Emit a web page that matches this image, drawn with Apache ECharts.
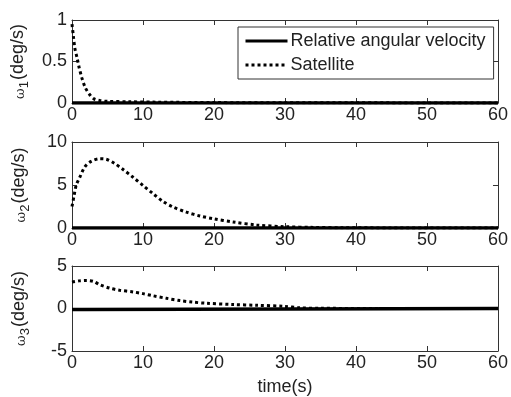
<!DOCTYPE html>
<html><head><meta charset="utf-8">
<script src="https://cdn.jsdelivr.net/npm/echarts@6/dist/echarts.min.js"></script>
<style>html,body{margin:0;padding:0;background:#fff}#c{width:511px;height:397px}</style>
</head><body><div id="c"></div>
<script>
// ---- data ----
const xTicks = [0, 10, 20, 30, 40, 50, 60];
const seriesNames = ['Relative angular velocity', 'Satellite'];

const rel1T = [0, 60];
const rel1V = [0, 0];
const sat1T = [0, 0.2, 0.4, 0.7, 1.0, 1.4, 1.9, 2.5, 3.1, 3.9, 5, 8, 12, 20, 30, 40, 50, 60];
const sat1V = [0.95, 0.8, 0.66, 0.55, 0.43, 0.3, 0.18, 0.1, 0.05, 0.03, 0.02, 0.015, 0.01, 0.005, 0.003, 0.002, 0.001, 0];

const rel2T = [0, 60];
const rel2V = [0, 0];
const sat2T = [0, 0.3, 0.6, 1.1, 1.8, 2.7, 3.9, 4.8, 6, 7.2, 8.6, 10, 11.4, 12.8, 14.2, 16.1, 18, 19.9, 22.7, 26, 30, 34, 38, 45, 60];
const sat2V = [2.5, 3.8, 5.0, 5.9, 7.1, 7.75, 8.05, 8.0, 7.5, 6.8, 5.9, 4.95, 4.0, 3.1, 2.45, 1.85, 1.4, 1.08, 0.7, 0.35, 0.15, 0.07, 0.03, 0.01, 0];

const rel3T = [0, 1.5, 1.7, 60];
const rel3V = [-0.12, -0.12, 0, 0];
const sat3T = [0, 1, 2, 3, 3.9, 5.3, 6.7, 8.6, 10, 11.4, 13.3, 15.2, 17, 18.9, 22.7, 26, 30, 32, 35, 60];
const sat3V = [3.1, 3.25, 3.3, 3.2, 2.8, 2.4, 2.15, 1.95, 1.75, 1.5, 1.2, 0.93, 0.75, 0.62, 0.47, 0.38, 0.25, 0.08, 0.02, 0];

const yRanges = [[0, 1, 0.5], [0, 10, 5], [-5, 5, 5]];
const yLabels = ['1', '2', '3'];

// ---- build ----
const pairs = (t, v) => t.map((x, i) => [x, v[i]]);
const grids = [
  {left: 72, top: 20, width: 428, height: 83},
  {left: 72, top: 142, width: 428, height: 86},
  {left: 72, top: 266, width: 428, height: 87}
];
const font = 'Liberation Sans, Arial, sans-serif';
const axCol = '#333';
const xAxis = [], yAxis = [];
grids.forEach((g, i) => {
  xAxis.push({
    type: 'value', gridIndex: i, min: 0, max: 60, interval: 10, position: 'bottom',
    axisLine: {onZero: false, lineStyle: {color: axCol, width: 1}},
    axisTick: {inside: true, length: 5, lineStyle: {color: axCol}},
    axisLabel: {fontFamily: font, fontSize: 18, color: '#222', margin: 3},
    splitLine: {show: false},
    name: i === 2 ? 'time(s)' : '', nameLocation: 'middle', nameGap: 27,
    nameTextStyle: {fontFamily: font, fontSize: 18, color: '#222'}
  });
  xAxis.push({
    type: 'value', gridIndex: i, min: 0, max: 60, interval: 10, position: 'top',
    axisLine: {onZero: false, lineStyle: {color: axCol, width: 1}},
    axisTick: {inside: true, length: 5, lineStyle: {color: axCol}},
    axisLabel: {show: false}, splitLine: {show: false}
  });
  const r = yRanges[i];
  yAxis.push({
    type: 'value', gridIndex: i, min: r[0], max: r[1], interval: r[2], position: 'left',
    axisLine: {show: true, onZero: false, lineStyle: {color: axCol, width: 1}},
    axisTick: {show: true, inside: true, length: 5, lineStyle: {color: axCol}},
    axisLabel: {fontFamily: font, fontSize: 18, color: '#222', margin: 5},
    splitLine: {show: false},
    name: '{w|ω}{s|' + yLabels[i] + '}{t|(deg/s)}',
    nameLocation: 'middle', nameRotate: 90, nameGap: 44,
    nameTextStyle: {
      fontFamily: font, color: '#222',
      rich: {
        w: {fontFamily: 'DejaVu Serif, serif', fontSize: 13, color: '#222', verticalAlign: 'bottom', lineHeight: 20},
        s: {fontFamily: font, fontSize: 13, color: '#222', verticalAlign: 'bottom', lineHeight: 14, padding: [0, 1, -4, 0]},
        t: {fontFamily: font, fontSize: 18, color: '#222', verticalAlign: 'bottom', lineHeight: 20}
      }
    }
  });
  yAxis.push({
    type: 'value', gridIndex: i, min: r[0], max: r[1], interval: r[2], position: 'right',
    axisLine: {show: true, onZero: false, lineStyle: {color: axCol, width: 1}},
    axisTick: {show: true, inside: true, length: 5, lineStyle: {color: axCol}},
    axisLabel: {show: false}, splitLine: {show: false}
  });
});

const rels = [pairs(rel1T, rel1V), pairs(rel2T, rel2V), pairs(rel3T, rel3V)];
const sats = [pairs(sat1T, sat1V), pairs(sat2T, sat2V), pairs(sat3T, sat3V)];
const series = [];
for (let i = 0; i < 3; i++) {
  series.push({
    name: seriesNames[0], type: 'line', xAxisIndex: 2 * i, yAxisIndex: 2 * i,
    data: rels[i], showSymbol: false, symbol: 'none', smooth: false, animation: false,
    lineStyle: {color: '#000', width: 3.5, type: 'solid'}, itemStyle: {color: '#000'}
  });
  series.push({
    name: seriesNames[1], type: 'line', xAxisIndex: 2 * i, yAxisIndex: 2 * i,
    data: sats[i], showSymbol: false, symbol: 'none', smooth: 0.3, animation: false,
    lineStyle: {color: '#000', width: 3, type: [3, 3]}, itemStyle: {color: '#000'}
  });
}

const chart = echarts.init(document.getElementById('c'), null, {renderer: 'canvas'});
chart.setOption({
  animation: false,
  backgroundColor: '#fff',
  grid: grids,
  xAxis: xAxis,
  yAxis: yAxis,
  legend: {
    data: seriesNames, orient: 'vertical', left: 238, top: 27,
    padding: [5, 8, 5, 6], itemGap: 6, itemWidth: 42, itemHeight: 14,
    borderColor: '#333', borderWidth: 1, backgroundColor: '#fff',
    itemStyle: {opacity: 0},
    lineStyle: {width: 3},
    textStyle: {fontFamily: font, fontSize: 18, color: '#222', padding: [0, 0, 0, -2]},
    selectedMode: false
  },
  series: series
});
</script></body></html>
